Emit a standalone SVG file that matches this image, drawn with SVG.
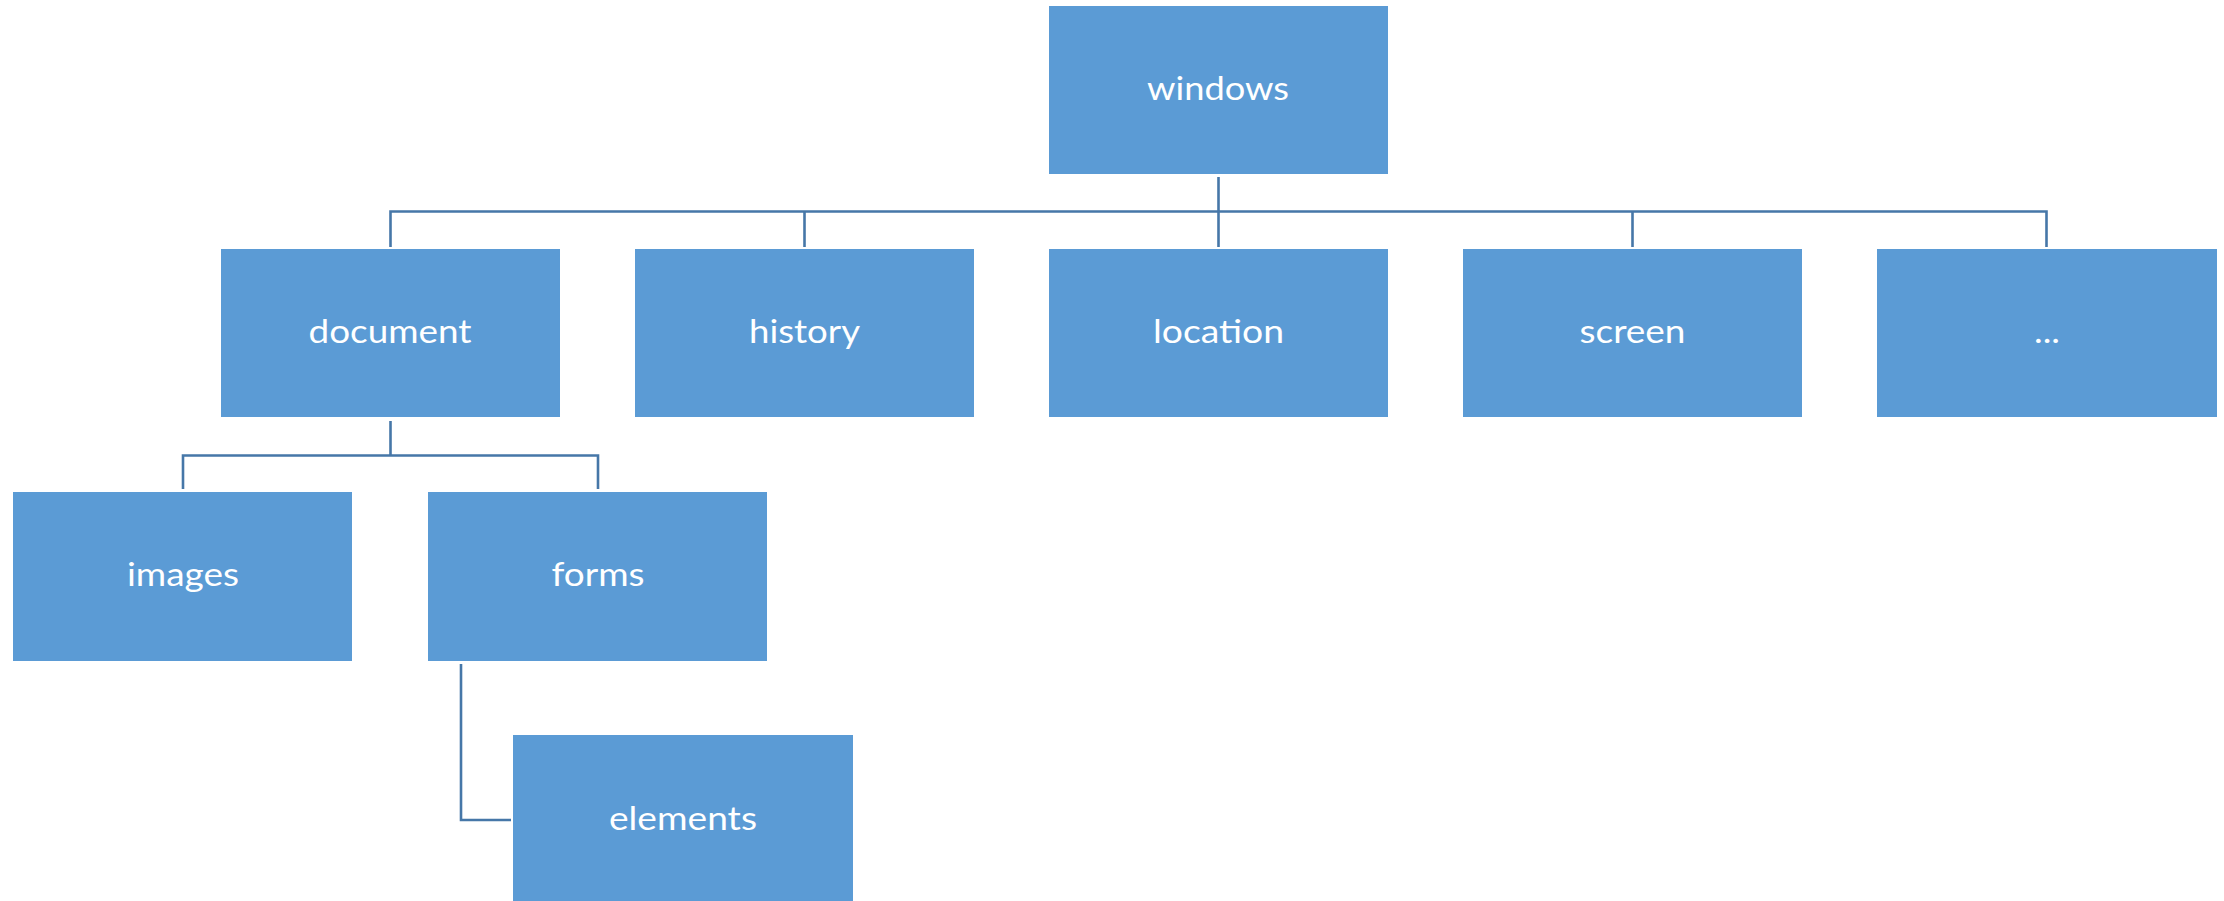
<svg xmlns="http://www.w3.org/2000/svg" width="2224" height="901" viewBox="0 0 2224 901">
<style>
.box{fill:#5B9BD5;}
.lbl{font-family:Lato,"Open Sans","Liberation Sans",sans-serif;font-size:32px;fill:#FFFFFF;text-anchor:middle;}
.conn{fill:none;stroke:#4677A8;stroke-width:2.6;}
</style>
<rect width="2224" height="901" fill="#FFFFFF"/>
<g id="connectors">
<path class="conn" d="M1218.5 177 V247"/>
<path class="conn" d="M390.5 247 V211.5 H2046.5 V247"/>
<path class="conn" d="M804.5 211.5 V247"/>
<path class="conn" d="M1632.5 211.5 V247"/>
<path class="conn" d="M390.5 421 V455.5"/>
<path class="conn" d="M183 489 V455.5 H598 V489"/>
<path class="conn" d="M461 664 V820 H511"/>
</g>
<g id="node-windows"><rect class="box" x="1049" y="6" width="339" height="168"/><text class="lbl" x="1218" y="100" textLength="142" lengthAdjust="spacingAndGlyphs">windows</text></g>
<g id="node-document"><rect class="box" x="221" y="249" width="339" height="168"/><text class="lbl" x="390" y="343" textLength="163" lengthAdjust="spacingAndGlyphs">document</text></g>
<g id="node-history"><rect class="box" x="635" y="249" width="339" height="168"/><text class="lbl" x="804.5" y="343" textLength="111" lengthAdjust="spacingAndGlyphs">history</text></g>
<g id="node-location"><rect class="box" x="1049" y="249" width="339" height="168"/><text class="lbl" x="1218.5" y="343" textLength="131" lengthAdjust="spacingAndGlyphs">location</text></g>
<g id="node-screen"><rect class="box" x="1463" y="249" width="339" height="168"/><text class="lbl" x="1632.5" y="343" textLength="106" lengthAdjust="spacingAndGlyphs">screen</text></g>
<g id="node-more"><rect class="box" x="1877" y="249" width="340" height="168"/><text class="lbl" x="2047" y="343" textLength="26" lengthAdjust="spacingAndGlyphs">...</text></g>
<g id="node-images"><rect class="box" x="13" y="492" width="339" height="169"/><text class="lbl" x="183" y="586" textLength="112" lengthAdjust="spacingAndGlyphs">images</text></g>
<g id="node-forms"><rect class="box" x="428" y="492" width="339" height="169"/><text class="lbl" x="598" y="586" textLength="93" lengthAdjust="spacingAndGlyphs">forms</text></g>
<g id="node-elements"><rect class="box" x="513" y="735" width="340" height="168"/><text class="lbl" x="683" y="830" textLength="148" lengthAdjust="spacingAndGlyphs">elements</text></g>
</svg>
